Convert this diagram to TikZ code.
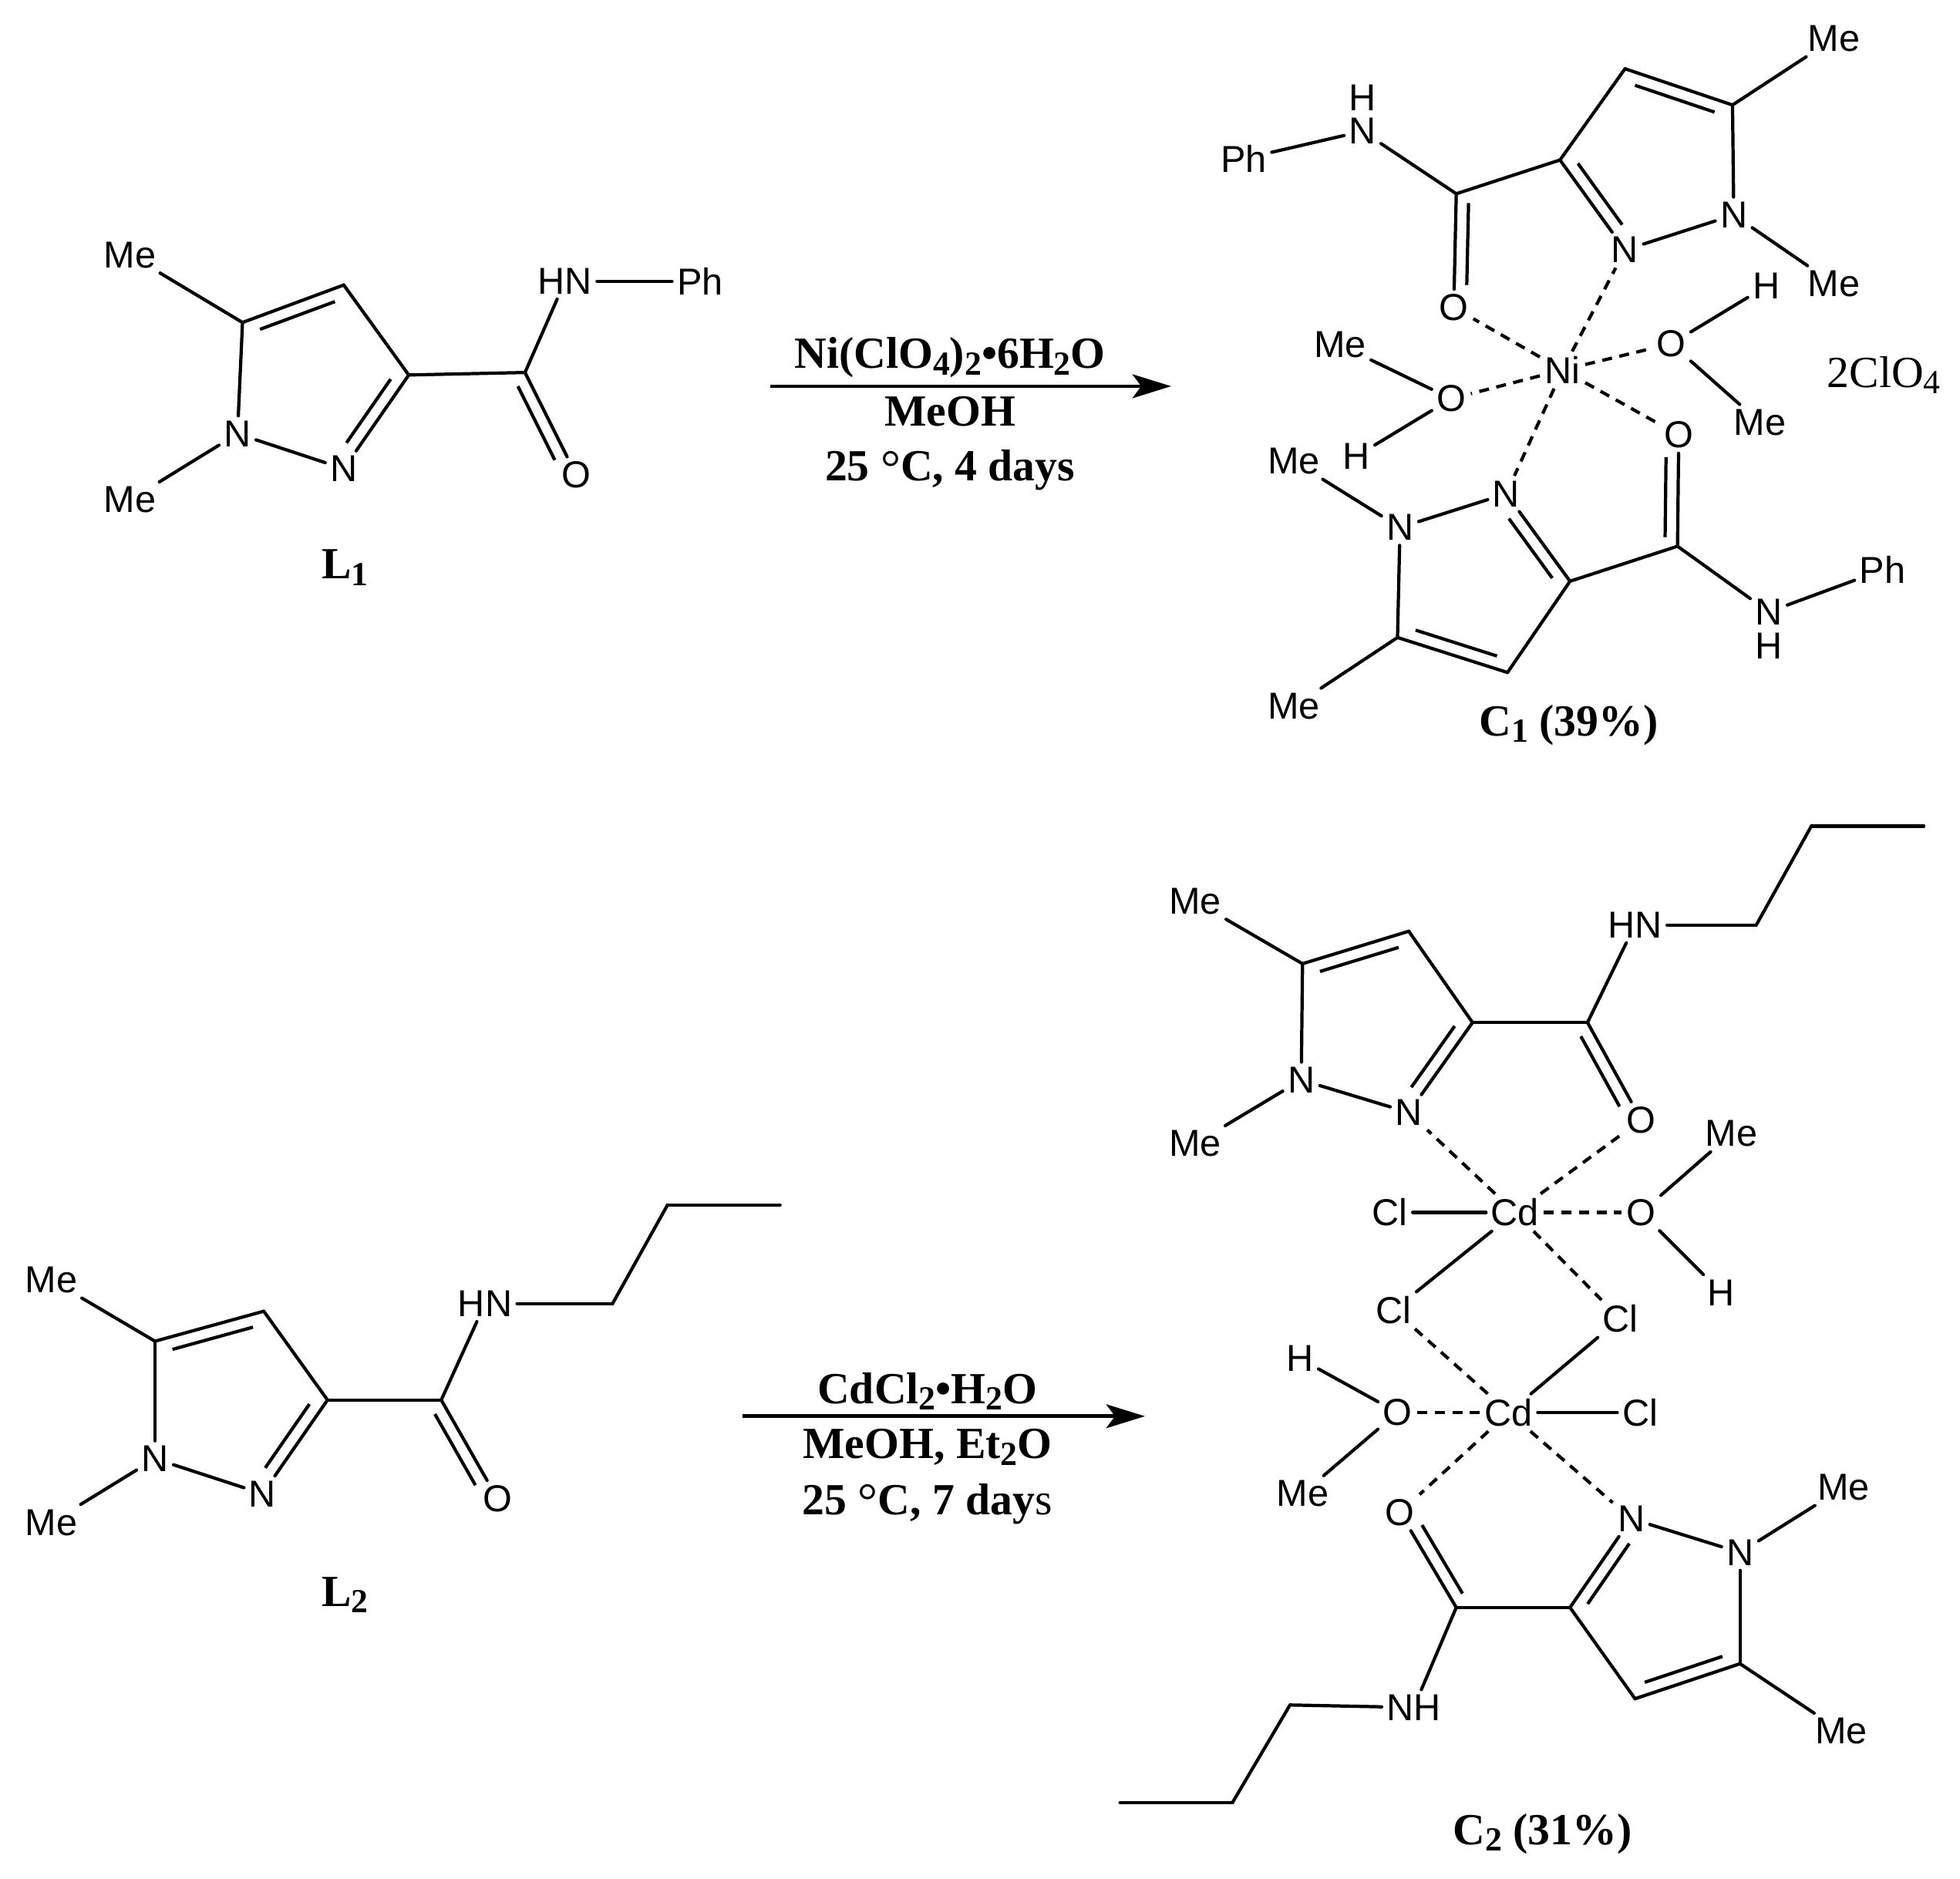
\documentclass[tikz,border=0pt]{standalone}
\usepackage{fontspec}
\setmainfont{Liberation Serif}
\newfontfamily\atomfont{Liberation Sans}
\usetikzlibrary{calc,arrows.meta}
\tikzset{
  atom/.style={font=\atomfont\fontsize{15}{18}\selectfont,inner sep=2pt,outer sep=0pt},
  caplabel/.style={font=\bfseries\fontsize{17.8}{20}\selectfont,inner sep=0pt},
  saltlabel/.style={font=\fontsize{17.8}{20}\selectfont,inner sep=0pt},
  bond/.style={line width=1.3pt,line cap=round},
  dbond/.style={line width=1.3pt,line cap=butt},
  coordbond/.style={line width=1.3pt,dash pattern=on 4pt off 3pt},
  rxn/.style={line width=1.5pt,-{Stealth[length=15.5pt,width=9.5pt,inset=3.5pt]}}
}
\newcommand{\dbl}[5]{\draw[dbond] ($(#1)!#4!(#2)!#3!90:(#2)$) -- ($(#2)!#5!(#1)!#3!-90:(#1)$);}
\newcommand{\sbs}[1]{\raisebox{-0.32ex}{\fontsize{13.5}{13.5}\selectfont #1}}
\newcommand{\dgr}{\raisebox{-1.5pt}{\fontsize{20}{20}\selectfont\mdseries °}}
\begin{document}
\begin{tikzpicture}[x=0.5pt,y=-0.5pt]
\useasboundingbox (0,0) rectangle (1568,1503.2);
% ---------- L1
\node[atom] (aMe1) at (104,204) {Me};
\node[atom] (aMe2) at (104,400) {Me};
\node[atom] (aN1) at (190,347) {N};
\node[atom] (aN2) at (275,375) {N};
\node[atom] (aO) at (461,380) {O};
\node[atom] (aHN) at (452,225) {HN};
\node[atom] (aPh) at (560,225) {Ph};
\coordinate (aC5) at (194,258);
\coordinate (aC4) at (275,228);
\coordinate (aC3) at (327,300);
\coordinate (aCO) at (420,298);
\draw[bond] (aMe1) -- (aC5);
\draw[bond] (aC5) -- (aC4);
\draw[bond] (aC4) -- (aC3);
\draw[bond] (aC3) -- (aN2);
\draw[bond] (aN2) -- (aN1);
\draw[bond] (aN1) -- (aC5);
\draw[bond] (aN1) -- (aMe2);
\draw[bond] (aC3) -- (aCO);
\draw[bond] (aCO) -- (aO);
\draw[bond] (aCO) -- (aHN);
\draw[bond] (aHN) -- (aPh);
\dbl{aC5}{aC4}{-5pt}{.13}{.13}
\dbl{aC3}{aN2}{-5pt}{.12}{.2}
\dbl{aCO}{aO}{-5pt}{.08}{.2}
\node[caplabel] (aL) at (276,454) {L\sbs{1}};
% ---------- reaction 1
\coordinate (r1s) at (616,309);
\coordinate (r1e) at (937,309);
\draw[rxn] (r1s) -- (r1e);
\node[caplabel] (r1a) at (760,286) {Ni(ClO\sbs{4})\sbs{2}•6H\sbs{2}O};
\node[caplabel] (r1b) at (760,329) {MeOH};
\node[caplabel] (r1c) at (760,376) {25 \dgr C, 4 days};
% ---------- C1
\node[atom] (bMe1) at (1467,31) {Me};
\node[atom] (bMe2) at (1467,227) {Me};
\node[atom] (bN2) at (1300,200) {N};
\node[atom] (bN1) at (1387,172) {N};
\node[atom] (bO) at (1163,246) {O};
\node[atom] (bNH) at (1090,105) {N};
\node[atom] (bH) at (1090,78) {H};
\node[atom] (bPh) at (995,127) {Ph};
\node[atom] (bNi) at (1250,296) {Ni};
\node[atom] (bO2) at (1337,275) {O};
\node[atom] (bH2) at (1413,229) {H};
\node[atom] (bMe3) at (1408,338) {Me};
\node[atom] (bO3) at (1161,319) {O};
\node[atom] (bMe4) at (1072,276) {Me};
\node[atom] (bH3) at (1085,365) {H};
\node[atom] (bO4) at (1343,348) {O};
\node[atom] (bN3) at (1205,395) {N};
\node[atom] (bN4) at (1120,422) {N};
\node[atom] (bMe5) at (1035,369) {Me};
\node[atom] (bMe6) at (1035,565) {Me};
\node[atom] (bNH2) at (1415,489.5) {N};
\node[atom] (bH4) at (1415,516.5) {H};
\node[atom] (bPh2) at (1506,456) {Ph};
\coordinate (bC5) at (1386,84);
\coordinate (bC4) at (1300,55);
\coordinate (bC3) at (1248,128);
\coordinate (bCO) at (1165,155);
\coordinate (bD5) at (1118,510);
\coordinate (bD4) at (1206,538);
\coordinate (bD3) at (1256,465);
\coordinate (bDO) at (1342,437);
\draw[bond] (bMe1) -- (bC5);
\draw[bond] (bC5) -- (bC4);
\draw[bond] (bC4) -- (bC3);
\draw[bond] (bC3) -- (bN2);
\draw[bond] (bN2) -- (bN1);
\draw[bond] (bN1) -- (bC5);
\draw[bond] (bN1) -- (bMe2);
\draw[bond] (bC3) -- (bCO);
\draw[bond] (bCO) -- (bO);
\draw[bond] (bCO) -- (bNH);
\draw[bond] (bNH) -- (bPh);
\dbl{bC4}{bC5}{-5pt}{.13}{.13}
\dbl{bC3}{bN2}{5pt}{.12}{.2}
\dbl{bCO}{bO}{5pt}{.08}{.2}
\draw[bond] (bMe5) -- (bN4);
\draw[bond] (bN4) -- (bN3);
\draw[bond] (bN3) -- (bD3);
\draw[bond] (bD3) -- (bD4);
\draw[bond] (bD4) -- (bD5);
\draw[bond] (bD5) -- (bN4);
\draw[bond] (bD5) -- (bMe6);
\draw[bond] (bD3) -- (bDO);
\draw[bond] (bDO) -- (bO4);
\draw[bond] (bDO) -- (bNH2);
\draw[bond] (bNH2) -- (bPh2);
\dbl{bD5}{bD4}{5pt}{.13}{.13}
\dbl{bD3}{bN3}{5pt}{.12}{.2}
\dbl{bDO}{bO4}{5pt}{.08}{.2}
\draw[coordbond] (bNi) -- (bN2);
\draw[coordbond] (bNi) -- (bO);
\draw[coordbond] (bNi) -- (bO2);
\draw[coordbond] (bNi) -- (bO3);
\draw[coordbond] (bNi) -- (bO4);
\draw[coordbond] (bNi) -- (bN3);
\draw[bond] (bO2) -- (bH2);
\draw[bond] (bO2) -- (bMe3);
\draw[bond] (bO3) -- (bMe4);
\draw[bond] (bO3) -- (bH3);
\node[saltlabel] (bSalt) at (1507,300) {2ClO\sbs{4}};
\node[caplabel] (bL) at (1255,580) {C\sbs{1} (39\%)};
% ---------- L2
\node[atom] (cMe1) at (41,1024) {Me};
\node[atom] (cMe2) at (41,1218) {Me};
\node[atom] (cN1) at (124,1167) {N};
\node[atom] (cN2) at (210,1195) {N};
\node[atom] (cO) at (398,1199) {O};
\node[atom] (cHN) at (388,1043) {HN};
\coordinate (cC5) at (124,1073);
\coordinate (cC4) at (211,1049);
\coordinate (cC3) at (262,1120);
\coordinate (cCO) at (353,1120);
\coordinate (cP1) at (490,1043);
\coordinate (cP2) at (534,964);
\coordinate (cP3) at (624,964);
\draw[bond] (cMe1) -- (cC5);
\draw[bond] (cC5) -- (cC4);
\draw[bond] (cC4) -- (cC3);
\draw[bond] (cC3) -- (cN2);
\draw[bond] (cN2) -- (cN1);
\draw[bond] (cN1) -- (cC5);
\draw[bond] (cN1) -- (cMe2);
\draw[bond] (cC3) -- (cCO);
\draw[bond] (cCO) -- (cO);
\draw[bond] (cCO) -- (cHN);
\draw[bond] (cHN) -- (cP1);
\draw[bond] (cP1) -- (cP2);
\draw[bond] (cP2) -- (cP3);
\dbl{cC5}{cC4}{-5pt}{.13}{.13}
\dbl{cC3}{cN2}{-5pt}{.12}{.2}
\dbl{cCO}{cO}{-5pt}{.08}{.2}
\node[caplabel] (cL) at (276,1276) {L\sbs{2}};
% ---------- reaction 2
\coordinate (r2s) at (594,1133);
\coordinate (r2e) at (916,1133);
\draw[rxn] (r2s) -- (r2e);
\node[caplabel] (r2a) at (742,1113) {CdCl\sbs{2}•H\sbs{2}O};
\node[caplabel] (r2b) at (742,1158) {MeOH, Et\sbs{2}O};
\node[caplabel] (r2c) at (742,1203) {25 \dgr C, 7 day{\mdseries s}};
% ---------- C2
\node[atom] (dMe1) at (956,721) {Me};
\node[atom] (dMe2) at (956,915) {Me};
\node[atom] (dN1) at (1041,864) {N};
\node[atom] (dN2) at (1127,890) {N};
\node[atom] (dO) at (1313,896) {O};
\node[atom] (dHN) at (1308,740) {HN};
\node[atom] (dCd) at (1212,970) {Cd};
\node[atom] (dCl1) at (1112,970) {Cl};
\node[atom] (dO2) at (1313,970) {O};
\node[atom] (dMe3) at (1385,907) {Me};
\node[atom] (dH1) at (1377,1034) {H};
\node[atom] (dCl2) at (1115,1048) {Cl};
\node[atom] (dCl3) at (1296,1055) {Cl};
\node[atom] (dCe) at (1207,1130) {Cd};
\node[atom] (dCl4) at (1312,1130) {Cl};
\node[atom] (dO3) at (1118,1130) {O};
\node[atom] (dH2) at (1040,1087) {H};
\node[atom] (dMe4) at (1042,1195) {Me};
\node[atom] (dO4) at (1120,1210) {O};
\node[atom] (dN3) at (1305,1215) {N};
\node[atom] (dN4) at (1392,1242) {N};
\node[atom] (dMe5) at (1475,1190) {Me};
\node[atom] (dMe6) at (1473,1385) {Me};
\node[atom] (dNH) at (1131,1366) {NH};
\coordinate (dC5) at (1042,771);
\coordinate (dC4) at (1127,745);
\coordinate (dC3) at (1178,818);
\coordinate (dCO) at (1270,818);
\coordinate (dP1) at (1405,740);
\coordinate (dP2) at (1449,661);
\coordinate (dP3) at (1539,661);
\coordinate (dD5) at (1392,1331);
\coordinate (dD4) at (1308,1359);
\coordinate (dD3) at (1256,1286);
\coordinate (dDO) at (1165,1286);
\coordinate (dQ1) at (1032,1364);
\coordinate (dQ2) at (986,1442);
\coordinate (dQ3) at (896,1442);
\draw[bond] (dMe1) -- (dC5);
\draw[bond] (dC5) -- (dC4);
\draw[bond] (dC4) -- (dC3);
\draw[bond] (dC3) -- (dN2);
\draw[bond] (dN2) -- (dN1);
\draw[bond] (dN1) -- (dC5);
\draw[bond] (dN1) -- (dMe2);
\draw[bond] (dC3) -- (dCO);
\draw[bond] (dCO) -- (dO);
\draw[bond] (dCO) -- (dHN);
\draw[bond] (dHN) -- (dP1);
\draw[bond] (dP1) -- (dP2);
\draw[bond] (dP2) -- (dP3);
\dbl{dC5}{dC4}{-5pt}{.13}{.13}
\dbl{dC3}{dN2}{-5pt}{.12}{.2}
\dbl{dCO}{dO}{-5pt}{.08}{.2}
\draw[bond] (dMe5) -- (dN4);
\draw[bond] (dN4) -- (dN3);
\draw[bond] (dN3) -- (dD3);
\draw[bond] (dD3) -- (dD4);
\draw[bond] (dD4) -- (dD5);
\draw[bond] (dD5) -- (dN4);
\draw[bond] (dD5) -- (dMe6);
\draw[bond] (dD3) -- (dDO);
\draw[bond] (dDO) -- (dO4);
\draw[bond] (dDO) -- (dNH);
\draw[bond] (dNH) -- (dQ1);
\draw[bond] (dQ1) -- (dQ2);
\draw[bond] (dQ2) -- (dQ3);
\dbl{dD4}{dD5}{5pt}{.13}{.13}
\dbl{dD3}{dN3}{-5pt}{.12}{.2}
\dbl{dDO}{dO4}{-5pt}{.08}{.2}
\draw[coordbond] (dCd) -- (dN2);
\draw[coordbond] (dCd) -- (dO);
\draw[coordbond] (dCd) -- (dO2);
\draw[coordbond] (dCd) -- (dCl3);
\draw[bond] (dCd) -- (dCl1);
\draw[bond] (dCd) -- (dCl2);
\draw[bond] (dO2) -- (dMe3);
\draw[bond] (dO2) -- (dH1);
\draw[coordbond] (dCe) -- (dCl2);
\draw[coordbond] (dCe) -- (dO3);
\draw[coordbond] (dCe) -- (dO4);
\draw[coordbond] (dCe) -- (dN3);
\draw[bond] (dCe) -- (dCl3);
\draw[bond] (dCe) -- (dCl4);
\draw[bond] (dO3) -- (dH2);
\draw[bond] (dO3) -- (dMe4);
\node[caplabel] (dL) at (1234,1467) {C\sbs{2} (31\%)};
\end{tikzpicture}
\end{document}
